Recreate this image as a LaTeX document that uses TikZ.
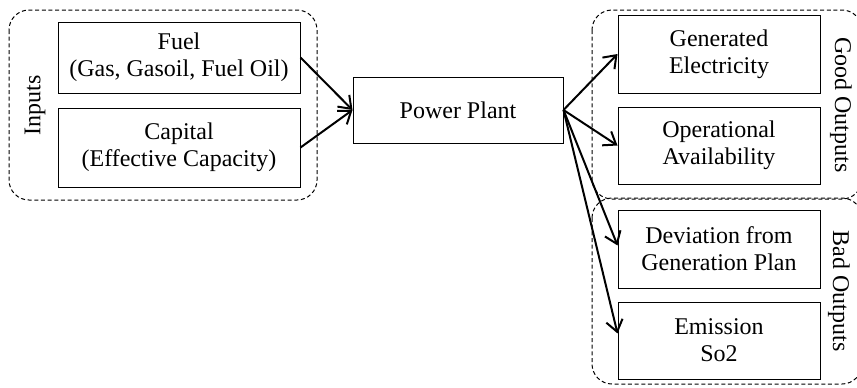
\documentclass[tikz,border=0pt]{standalone}
\usepackage{fontspec}
\setmainfont{Liberation Serif}
\usetikzlibrary{arrows.meta}

\tikzset{every picture/.style={line width=0.75pt}}
\tikzset{
	blk/.style={draw, align=center, inner sep=0.75pt},
	grp/.style={draw, dashed, dash pattern=on 3pt off 2pt, rounded corners=15pt},
	flow/.style={line width=1.5pt, -{Straight Barb[length=8.5pt,width=12.5pt]}},
}

\begin{document}
\begin{tikzpicture}[x=0.75pt,y=0.75pt,yscale=-1,xscale=1,font=\fontsize{18}{20.25}\selectfont]
	\useasboundingbox (0,0) rectangle (857,387);
	
	%Shape: Rounded Rect [id:inputs] 
	\draw [grp] (9,10) rectangle (317,200);
	%Shape: Rounded Rect [id:good] 
	\draw [grp] (592,10) rectangle (862,199);
	%Shape: Rounded Rect [id:bad] 
	\draw [grp] (592,198) rectangle (862,384);
	
	%Shape: Rectangle [id:fuel] 
	\node [blk, minimum width=181.5pt, minimum height=53.25pt] (fuel) at (179,57.5) {Fuel\\(Gas, Gasoil, Fuel Oil)};
	%Shape: Rectangle [id:capital] 
	\node [blk, minimum width=181.5pt, minimum height=59.25pt] (capital) at (179,147.5) {Capital\\(Effective Capacity)};
	%Shape: Rectangle [id:plant] 
	\node [blk, minimum width=157.5pt, minimum height=49.5pt] (plant) at (458,110) {Power Plant};
	%Shape: Rectangle [id:elec] 
	\node [blk, minimum width=151.5pt, minimum height=58.5pt] (elec) at (719,54) {Generated\\Electricity};
	%Shape: Rectangle [id:avail] 
	\node [blk, minimum width=151.5pt, minimum height=57.75pt] (avail) at (719,145.5) {Operational\\Availability};
	%Shape: Rectangle [id:dev] 
	\node [blk, minimum width=151.5pt, minimum height=58.5pt] (dev) at (719,249) {Deviation from\\Generation Plan};
	%Shape: Rectangle [id:emis] 
	\node [blk, minimum width=151.5pt, minimum height=57.75pt] (emis) at (719,340.5) {Emission\\So2};
	
	% Text Node
	\node [rotate=90] (lin) at (35,105) {Inputs};
	% Text Node
	\node [rotate=-90] (lgood) at (841,105) {Good Outputs};
	% Text Node
	\node [rotate=-90] (lbad) at (839,291) {Bad Outputs};
	
	%Straight Lines
	\draw [flow] (fuel.east) -- (plant.west);
	\draw [flow] (capital.east) -- (plant.west);
	\draw [flow] (plant.east) -- (elec.west);
	\draw [flow] (plant.east) -- (avail.west);
	\draw [flow] (plant.east) -- (dev.178);
	\draw [flow] (plant.east) -- (emis.176);
	
\end{tikzpicture}
\end{document}
